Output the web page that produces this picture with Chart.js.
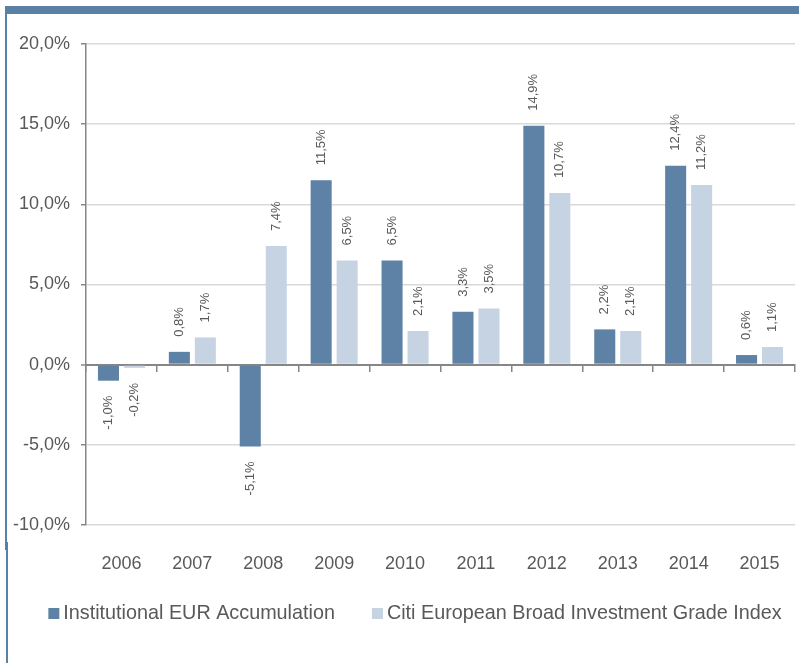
<!DOCTYPE html>
<html>
<head>
<meta charset="utf-8">
<script src="https://cdn.jsdelivr.net/npm/chart.js@4/dist/chart.umd.min.js"></script>
<style>
  html, body { margin: 0; padding: 0; background: #fff; }
  #wrap { position: relative; width: 799px; height: 663px; overflow: hidden; }
  #c { position: absolute; left: 0; top: 0; }
  .bd { position: absolute; background: #5B80A5; }
</style>
</head>
<body>
<div id="wrap">
  <div class="bd" style="left:5px;top:6px;width:794px;height:8px;"></div>
  <div class="bd" style="left:5px;top:6px;width:2px;height:544px;"></div>
  <div class="bd" style="left:6px;top:542px;width:2px;height:121px;"></div>
  <canvas id="c" width="799" height="663"></canvas>
</div>
<script>
const categories = ['2006','2007','2008','2009','2010','2011','2012','2013','2014','2015'];
const seriesNames = ['Institutional EUR Accumulation', 'Citi European Broad Investment Grade Index'];
const fundValues  = [-1.0, 0.8, -5.1, 11.5, 6.5, 3.3, 14.9, 2.2, 12.4, 0.6];
const indexValues = [-0.2, 1.7,  7.4,  6.5, 2.1, 3.5, 10.7, 2.1, 11.2, 1.1];
const yTicks = [-10, -5, 0, 5, 10, 15, 20];

Chart.defaults.font.family = '"Liberation Sans", Arial, sans-serif';
const fmt = v => v.toFixed(1).replace('.', ',') + '%';

const labelPlugin = {
  id: 'barLabels',
  afterDatasetsDraw(chart) {
    const ctx = chart.ctx;
    ctx.save();
    ctx.font = '13px "Liberation Sans", Arial, sans-serif';
    ctx.fillStyle = '#595959';
    ctx.textBaseline = 'middle';
    chart.data.datasets.forEach((ds, di) => {
      const meta = chart.getDatasetMeta(di);
      meta.data.forEach((el, i) => {
        const v = ds.data[i];
        ctx.save();
        if (v >= 0) {
          ctx.translate(el.x, el.y - 15);
          ctx.rotate(-Math.PI / 2);
          ctx.textAlign = 'left';
        } else {
          ctx.translate(el.x, el.y + 15);
          ctx.rotate(-Math.PI / 2);
          ctx.textAlign = 'right';
        }
        ctx.fillText(fmt(v), 0, 0);
        ctx.restore();
      });
    });
    ctx.restore();
  },
  afterDraw(chart) {
    // legend built from the chart's own legend items
    const items = chart.options.plugins.legend.labels.generateLabels(chart);
    const ctx = chart.ctx;
    ctx.save();
    ctx.font = '19.8px "Liberation Sans", Arial, sans-serif';
    ctx.textBaseline = 'middle';
    const box = 11, gapBT = 4, gapItems = 37;
    const widths = items.map(it => box + gapBT + ctx.measureText(it.text).width);
    const total = widths.reduce((a, b) => a + b, 0) + gapItems * (items.length - 1);
    let x = 415 - total / 2;
    const yc = 614;
    items.forEach((it, i) => {
      ctx.fillStyle = it.fillStyle;
      ctx.fillRect(x, yc - box / 2 - 0.5, box, box);
      ctx.fillStyle = '#595959';
      ctx.textAlign = 'left';
      ctx.fillText(it.text, x + box + gapBT, yc);
      x += widths[i] + gapItems;
    });
    ctx.restore();
  }
};

new Chart(document.getElementById('c'), {
  type: 'bar',
  data: {
    labels: categories,
    datasets: [
      { label: seriesNames[0], data: fundValues, backgroundColor: '#5E82A5', categoryPercentage: 0.733, barPercentage: 0.81 },
      { label: seriesNames[1], data: indexValues, backgroundColor: '#C6D3E3', categoryPercentage: 0.733, barPercentage: 0.81 }
    ]
  },
  options: {
    responsive: false,
    animation: false,
    layout: { padding: { left: 0, right: 4, top: 44, bottom: 68 } },
    plugins: {
      tooltip: { enabled: false },
      legend: { display: false }
    },
    scales: {
      x: {
        grid: { display: false },
        border: { display: false },
        ticks: { color: '#595959', font: { size: 18, lineHeight: '62px' }, padding: 0 },
        afterFit(s) { s.height = 70; }
      },
      x2: {
        type: 'category',
        position: { y: 0 },
        grid: { offset: true, drawOnChartArea: false, drawTicks: true, tickLength: 6, tickColor: '#868686', lineWidth: 1.5 },
        border: { display: true, color: '#868686', width: 2 },
        ticks: { display: false }
      },
      y: {
        min: -10, max: 20,
        afterBuildTicks(s) { s.ticks = yTicks.map(v => ({ value: v })); },
        ticks: { color: '#595959', font: { size: 18 }, padding: 11, callback: v => fmt(v) },
        grid: {
          color: c => (c.tick && c.tick.value === 0) ? '#868686' : '#D9D9D9',
          lineWidth: c => (c.tick && c.tick.value === 0) ? 2 : 1.5,
          tickLength: 5, tickColor: '#868686', tickWidth: 1.5
        },
        border: { display: true, color: '#868686', width: 1.5 },
        afterFit(s) { s.width = 86; }
      }
    }
  },
  plugins: [labelPlugin]
});
</script>
</body>
</html>
